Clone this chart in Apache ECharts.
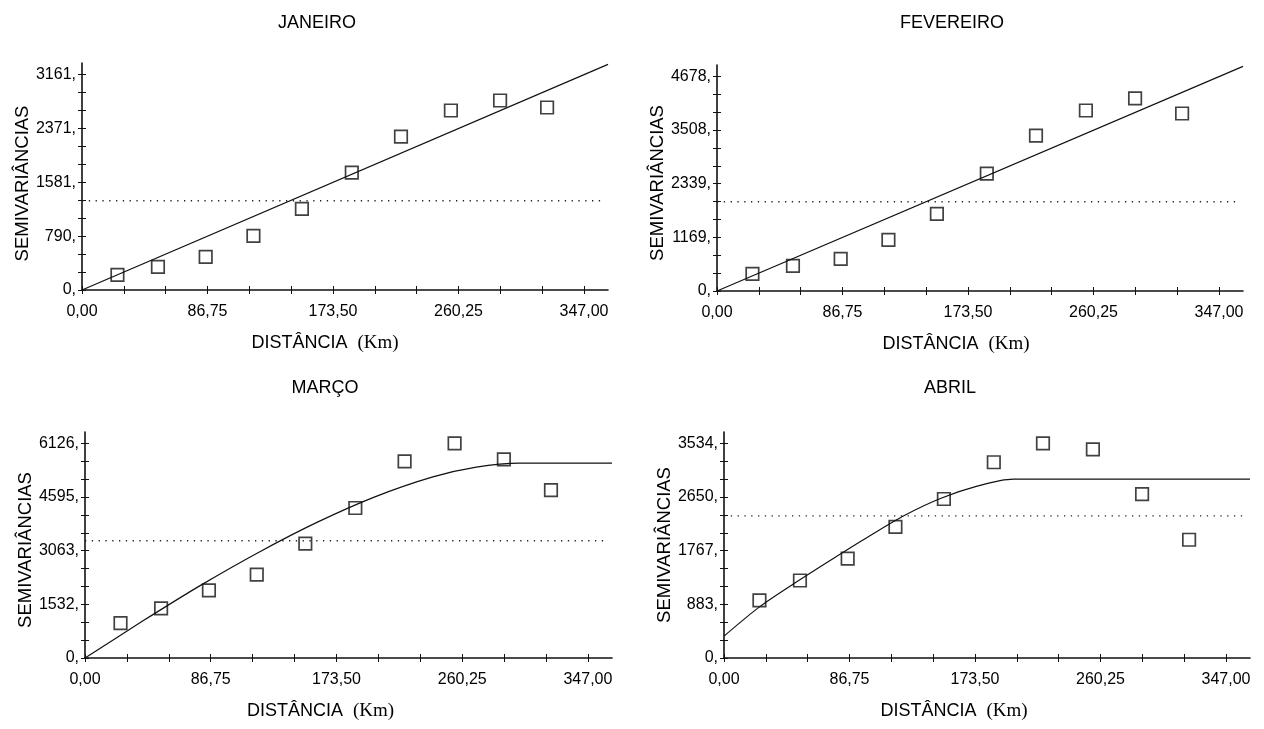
<!DOCTYPE html>
<html>
<head>
<meta charset="utf-8">
<script src="https://cdn.jsdelivr.net/npm/echarts@6/dist/echarts.min.js"></script>
<style>
html, body { margin: 0; padding: 0; background: #fff; }
#chart { width: 1264px; height: 729px; }
</style>
</head>
<body>
<div id="chart"></div>
<script>
// distance classes (km), same for every month
const lags = [24.5, 52.5, 85.5, 118.5, 152, 186.5, 220.5, 255, 289, 321.5];
const xLabels = ['0,00', '86,75', '173,50', '260,25', '347,00'];
const xStep = 86.75;
const xEnd = 363.6;

// experimental semivariances
const janPoints = [221, 338, 485, 794, 1191, 1720, 2250, 2632, 2779, 2676];
const fevPoints = [372, 546, 699, 1115, 1683, 2557, 3388, 3934, 4197, 3869];
const marPoints = [993, 1418, 1929, 2382, 3262, 4282, 5615, 6126, 5672, 4793];
const abrPoints = [949, 1276, 1636, 2160, 2618, 3223, 3534, 3436, 2700, 1947];

// fitted models
const janModelX = [0, 363.6];
const janModelY = [0, 3308];
const fevModelX = [0, 363.6];
const fevModelY = [0, 4896];
const marModelX = [0, 40, 80, 120, 160, 200, 240, 270, 300, 363.6];
const marModelY = [0, 1060, 2080, 3020, 3870, 4600, 5170, 5450, 5560, 5560];
const abrModelX = [0, 25, 50, 75, 100, 125, 150, 175, 200, 363.6];
const abrModelY = [360, 850, 1250, 1630, 2000, 2350, 2630, 2830, 2945, 2945];

// dotted line (sample variance)
const variance = [1309, 1945, 3347, 2340];

// y tick labels
const janTicks = ['0,', '790,', '1581,', '2371,', '3161,'];
const fevTicks = ['0,', '1169,', '2339,', '3508,', '4678,'];
const marTicks = ['0,', '1532,', '3063,', '4595,', '6126,'];
const abrTicks = ['0,', '883,', '1767,', '2650,', '3534,'];

const months = ['JANEIRO', 'FEVEREIRO', 'MARÇO', 'ABRIL'];

const panels = [
    { pts: janPoints, mx: janModelX, my: janModelY, ticks: janTicks, smooth: false,
      grid: { left: 82, top: 63, width: 526, height: 227 }, title: [317, 23], nameShift: 40, yShift: 14 },
    { pts: fevPoints, mx: fevModelX, my: fevModelY, ticks: fevTicks, smooth: false,
      grid: { left: 717, top: 65, width: 526, height: 226 }, title: [952, 23], nameShift: 48, yShift: 10 },
    { pts: marPoints, mx: marModelX, my: marModelY, ticks: marTicks, smooth: 0.3,
      grid: { left: 85, top: 432, width: 527, height: 226 }, title: [325, 388], nameShift: 56, yShift: 10 },
    { pts: abrPoints, mx: abrModelX, my: abrModelY, ticks: abrTicks, smooth: 0.3,
      grid: { left: 724, top: 432, width: 526, height: 226 }, title: [950, 388], nameShift: 66, yShift: 0 }
];

const font = 'Liberation Sans';
const xTickVals = [];
for (let k = 0; k <= 12; k++) xTickVals.push(k * xStep / 3);
const xLabelVals = xLabels.map((s, i) => i * xStep);
const tickStyle = { color: '#111', width: 1 };
const hiddenLine = { show: true, lineStyle: { color: 'rgba(0,0,0,0)', width: 0 } };

let grids = [], xAxes = [], yAxes = [], series = [], graphics = [];

panels.forEach(function (p, i) {
    const top = parseFloat(p.ticks[4]);
    const yTickVals = [];
    for (let k = 0; k <= 12; k++) yTickVals.push(k * top / 12);
    const yLabelVals = p.ticks.map((s, k) => k * top / 4);
    const yMax = top * 1.053;

    grids.push(Object.assign({ containLabel: false }, p.grid));

    // main x axis (outside ticks, labels, name)
    xAxes.push({
        type: 'value', gridIndex: i, position: 'bottom', min: 0, max: xEnd,
        axisLine: { lineStyle: { color: '#111', width: 1.6 } },
        axisTick: { show: true, length: 4, customValues: xTickVals, lineStyle: tickStyle },
        axisLabel: {
            customValues: xLabelVals, margin: 14, fontSize: 16, fontFamily: font, color: '#000',
            formatter: v => xLabels[Math.round(v / xStep)]
        },
        splitLine: { show: false },
        name: '{a|DISTÂNCIA}  {b|(Km)}', nameLocation: 'middle', nameGap: 44,
        nameTextStyle: {
            fontSize: 18, fontFamily: font, color: '#000', padding: [0, p.nameShift, 0, 0],
            rich: {
                a: { fontSize: 18, fontFamily: font, color: '#000' },
                b: { fontSize: 19, fontFamily: 'Liberation Serif', color: '#000' }
            }
        }
    });
    // second x axis on the same line: inside ticks, so ticks cross the axis
    xAxes.push({
        type: 'value', gridIndex: i, position: 'bottom', offset: 0, min: 0, max: xEnd,
        axisLine: hiddenLine,
        axisTick: { show: true, inside: true, length: 4, customValues: xTickVals, lineStyle: tickStyle },
        axisLabel: { show: false }, splitLine: { show: false }
    });

    yAxes.push({
        type: 'value', gridIndex: i, position: 'left', min: 0, max: yMax,
        axisLine: { show: true, lineStyle: { color: '#111', width: 1.6 } },
        axisTick: { show: true, length: 4, customValues: yTickVals, lineStyle: tickStyle },
        axisLabel: {
            customValues: yLabelVals, margin: 6, fontSize: 16, fontFamily: font, color: '#000',
            formatter: v => p.ticks[Math.round(v / (top / 4))]
        },
        splitLine: { show: false },
        name: 'SEMIVARIÂNCIAS', nameLocation: 'middle', nameGap: 50,
        nameTextStyle: { fontSize: 18.5, fontFamily: font, color: '#000', padding: [0, p.yShift, 0, 0] }
    });
    yAxes.push({
        type: 'value', gridIndex: i, position: 'left', offset: 0, min: 0, max: yMax,
        axisLine: hiddenLine,
        axisTick: { show: true, inside: true, length: 4, customValues: yTickVals, lineStyle: tickStyle },
        axisLabel: { show: false }, splitLine: { show: false }
    });

    series.push({
        type: 'line', xAxisIndex: 2 * i, yAxisIndex: 2 * i,
        data: [[0, variance[i]], [360, variance[i]]],
        showSymbol: false, silent: true,
        lineStyle: { color: '#222', width: 1.3, type: [1.3, 5.5] }
    });
    series.push({
        type: 'line', xAxisIndex: 2 * i, yAxisIndex: 2 * i,
        data: p.mx.map((x, k) => [x, p.my[k]]),
        showSymbol: false, smooth: p.smooth, silent: true,
        lineStyle: { color: '#111', width: 1.2 }
    });
    series.push({
        type: 'scatter', xAxisIndex: 2 * i, yAxisIndex: 2 * i,
        data: lags.map((x, k) => [x, p.pts[k]]),
        symbol: 'rect', symbolSize: 12.5, z: 5,
        itemStyle: { color: 'rgba(255,255,255,0)', borderColor: '#111', borderWidth: 1.7 }
    });

    graphics.push({
        type: 'text', x: p.title[0], y: p.title[1],
        style: { text: months[i], align: 'center', verticalAlign: 'middle',
                 fontSize: 18, fontFamily: font, fill: '#000' }
    });
});

let option = {
    animation: false,
    backgroundColor: '#fff',
    grid: grids,
    xAxis: xAxes,
    yAxis: yAxes,
    series: series,
    graphic: graphics
};

var chart = echarts.init(document.getElementById('chart'));
chart.setOption(option);
</script>
</body>
</html>
